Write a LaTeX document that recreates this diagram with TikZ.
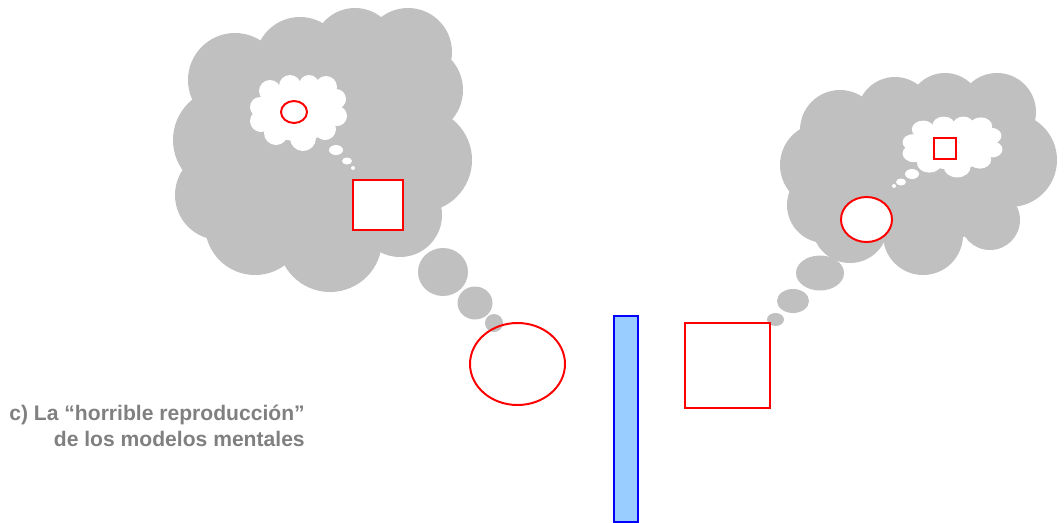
\documentclass[tikz,border=0pt]{standalone}
\usepackage{fontspec}
\setmainfont{Liberation Sans}
\definecolor{cloudgray}{HTML}{C0C0C0}
\definecolor{labelgray}{HTML}{808080}
\definecolor{shapered}{HTML}{FF0000}
\definecolor{barblue}{HTML}{0000FF}
\definecolor{barfill}{HTML}{99CCFF}

\begin{document}
\begin{tikzpicture}[
  x=0.025cm,
  y=-0.025cm,
  every node/.style={font=\bfseries\fontsize{15}{17.8}\selectfont}
]
  \useasboundingbox (0,0) rectangle (1064,522);
  \def\innercloud{%
    \fill[white] (0,-1) ellipse (40 and 29);
    \foreach \bx/\by/\br in {-28/-22/11, -8/-27/11, 11/-28/10, 28/-26/11, 38/-14/10,
                             39/3/10, 27/16/11, 5/25/13, -22/20/12, -37/8/11, -38/-6/10}
      \fill[white] (\bx,\by) circle (\br);
  }

  % left cloud
  \fill[cloudgray] (322,150) ellipse (125 and 105);
  \foreach \bx/\by/\br in {235/80/47, 300/62/45, 355/50/42, 408/52/44, 418/90/45,
                           420/160/52, 400/215/42, 330/240/52, 255/225/50,
                           220/195/45, 225/140/52}
    \fill[cloudgray] (\bx,\by) circle (\br);
  \begin{scope}[shift={(298,113)}]
    \innercloud
  \end{scope}
  \fill[white] (336,150) ellipse (7 and 5);
  \fill[white] (347,161) ellipse (5 and 3.5);
  \fill[white] (353,168) circle (2);
  \draw[shapered, line width=1.4pt] (294,112) ellipse (13 and 11);
  \draw[shapered, line width=1.4pt, fill=white] (353,180) rectangle (403,230);
  \fill[cloudgray] (443,272) ellipse (25 and 24);
  \fill[cloudgray] (475,303) ellipse (17.5 and 16.5);
  \fill[cloudgray] (494,323) circle (9);
  \draw[shapered, line width=1.4pt] (517.5,364) ellipse (47.5 and 41);

  % right cloud
  \fill[cloudgray] (918,172) ellipse (105 and 72);
  \foreach \bx/\by/\br in {840/130/40, 895/115/38, 945/110/37, 997/112/39,
                           1010/160/47, 990/220/30, 923/235/40, 850/225/38,
                           825/205/38, 822/165/42}
    \fill[cloudgray] (\bx,\by) circle (\br);
  \begin{scope}[shift={(952,147)}, xscale=1.03, yscale=0.8]
    \innercloud
  \end{scope}
  \fill[white] (912,174) ellipse (7 and 5);
  \fill[white] (901,182) ellipse (5 and 3.5);
  \fill[white] (894,186) circle (2);
  \draw[shapered, line width=1.4pt] (934,138) rectangle (956,159);
  \draw[shapered, line width=1.4pt, fill=white] (866.5,219.5) ellipse (25.5 and 22.5);
  \fill[cloudgray] (820,273) ellipse (24 and 17.5);
  \fill[cloudgray] (793,301) ellipse (16 and 12);
  \fill[cloudgray] (775.5,319.5) ellipse (8.5 and 6.5);
  \draw[shapered, line width=1.4pt] (685,323) rectangle (770,408);

  % barrier
  \draw[barblue, line width=1.4pt, fill=barfill] (614,316) rectangle (638,522);

  \node[labelgray, align=right, anchor=base east, inner sep=0pt] (caption) at (305,446)
    {c) La “horrible reproducción”\\de los modelos mentales};
\end{tikzpicture}
\end{document}
